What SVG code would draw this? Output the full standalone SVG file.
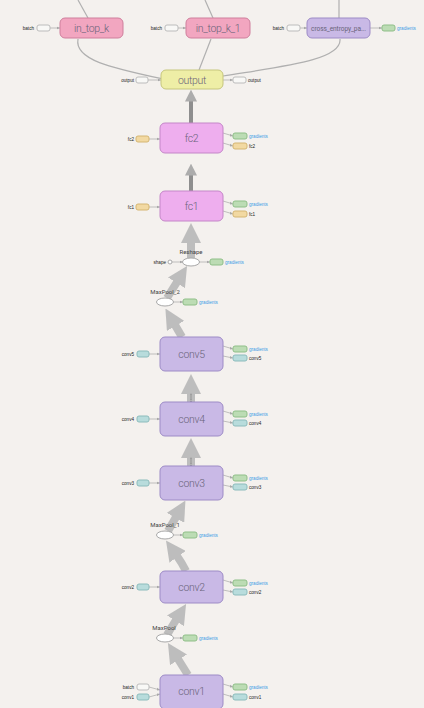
<svg xmlns="http://www.w3.org/2000/svg" width="424" height="708" viewBox="0 0 424 708">
  <style>
    .bg { fill: #f4f1ee; }
    .node rect { stroke-width: 1; }
    .pink { fill: #f2a6c0; stroke: #cf7f9c; }
    .violet { fill: #c9b9e6; stroke: #9d8bc6; }
    .fc { fill: #eeaeee; stroke: #c486c8; }
    .yellow { fill: #eeeea6; stroke: #c6c67c; }
    .op { fill: #ffffff; stroke: #a8a8a8; stroke-width: 1; }
    .lbl { font-family: Roboto, "Liberation Sans", sans-serif; font-size: 10.5px; font-weight: 300; letter-spacing: -0.3px; fill: #6a647a; text-anchor: middle; }
    .small { font-family: "Liberation Sans", Arial, sans-serif; font-size: 4.6px; fill: #222; }
    .grad { font-family: "Liberation Sans", Arial, sans-serif; font-size: 4.6px; fill: #3b9ce6; }
    .oplbl { font-family: Roboto, "Liberation Sans", sans-serif; font-size: 6px; fill: #444; text-anchor: middle; }
    .thin { fill: none; stroke: #b0b0b0; stroke-width: 1.2; }
    .aux { fill: none; stroke: #a8a8a8; stroke-width: 0.7; }
    .fat { fill: none; stroke: #bdbdbd; stroke-width: 8; marker-end: url(#fathead); }
    .mid { fill: none; stroke: #8e8e8e; stroke-width: 4; marker-end: url(#midhead); }
    .stripe { fill: none; stroke: #8a8a8a; stroke-width: 1.6; stroke-dasharray: 1.2 1; }
    .g-box { fill: #bcdcb4; stroke: #8fbf88; stroke-width: 0.6; }
    .t-box { fill: #b8dcdc; stroke: #8cbcbc; stroke-width: 0.6; }
    .f-box { fill: #f2d9a2; stroke: #d5b672; stroke-width: 0.6; }
    .w-box { fill: #f8f8f6; stroke: #bcbcbc; stroke-width: 0.6; }
  </style>
  <defs>
    <marker id="fathead" viewBox="0 0 10 10" refX="0.5" refY="5" markerWidth="2.5" markerHeight="2.5" orient="auto">
      <path d="M0,0 L10,5 L0,10 z" fill="#bdbdbd"/>
    </marker>
    <marker id="midhead" viewBox="0 0 10 10" refX="0.5" refY="5" markerWidth="3" markerHeight="3" orient="auto">
      <path d="M0,0 L10,5 L0,10 z" fill="#acacac"/>
    </marker>
    <marker id="tip" viewBox="0 0 10 10" refX="9" refY="5" markerWidth="5" markerHeight="5" orient="auto">
      <path d="M0,1 L9,5 L0,9 z" fill="#a8a8a8"/>
    </marker>
  </defs>

  <rect class="bg" x="0" y="0" width="424" height="708"/>

  <!-- connectors -->
  <g id="connectors">
    <!-- edges leaving the top of the view -->
    <path class="thin" d="M78,0 L88,18"/>
    <path class="thin" d="M205,0 L213,18"/>
    <path class="thin" d="M339,0 L339,18"/>
    <!-- output to the metric / loss ops -->
    <path class="thin" d="M163,79 C112,68 74,60 78,39"/>
    <path class="thin" d="M199,70 L211,39"/>
    <path class="thin" d="M223,76 C285,66 342,60 340,39"/>

    <!-- main data flow -->
    <path class="mid" d="M191,123 L191,101"/>
    <path class="mid" d="M191,191 L191,175"/>
    <path class="fat" d="M191,258 L191,242"/>
    <path class="fat" d="M167,298 Q172,290 177,282"/>
    <path class="fat" d="M182,337 L175,325"/>
    <path class="fat" d="M191,402 L191,393"/>
    <path class="stripe" d="M191,402 L191,393"/>
    <path class="fat" d="M191,466 L191,457"/>
    <path class="stripe" d="M191,466 L191,457"/>
    <path class="fat" d="M168,531 Q172,524 176,517"/>
    <path class="fat" d="M186,571 Q182,563 177,556"/>
    <path class="fat" d="M167,635 Q171,628 176,620"/>
    <path class="fat" d="M188,675 Q183,667 178,659"/>

    <!-- auxiliary inputs (left) -->
    <path class="aux" d="M50,28 L60,28" marker-end="url(#tip)"/>
    <path class="aux" d="M178,28 L186,28" marker-end="url(#tip)"/>
    <path class="aux" d="M300,28 L307,28" marker-end="url(#tip)"/>
    <path class="aux" d="M148,80 L161,80" marker-end="url(#tip)"/>
    <path class="aux" d="M149,139 L160,139" marker-end="url(#tip)"/>
    <path class="aux" d="M149,207 L160,207" marker-end="url(#tip)"/>
    <path class="aux" d="M172,262 L183,262" marker-end="url(#tip)"/>
    <path class="aux" d="M149,354 L160,354" marker-end="url(#tip)"/>
    <path class="aux" d="M149,419 L160,419" marker-end="url(#tip)"/>
    <path class="aux" d="M149,483 L160,483" marker-end="url(#tip)"/>
    <path class="aux" d="M149,587 L160,587" marker-end="url(#tip)"/>
    <path class="aux" d="M149,687 L160,690" marker-end="url(#tip)"/>
    <path class="aux" d="M149,697 L160,694" marker-end="url(#tip)"/>

    <!-- auxiliary outputs (right) -->
    <path class="aux" d="M370,28 L382,28" marker-end="url(#tip)"/>
    <path class="aux" d="M223,80 L233,80" marker-end="url(#tip)"/>
    <path class="aux" d="M223,133 L233,136" marker-end="url(#tip)"/>
    <path class="aux" d="M223,143 L233,146" marker-end="url(#tip)"/>
    <path class="aux" d="M223,201 L233,204" marker-end="url(#tip)"/>
    <path class="aux" d="M223,211 L233,214" marker-end="url(#tip)"/>
    <path class="aux" d="M199,262 L210,262" marker-end="url(#tip)"/>
    <path class="aux" d="M173,302 L183,302" marker-end="url(#tip)"/>
    <path class="aux" d="M223,346 L233,349" marker-end="url(#tip)"/>
    <path class="aux" d="M223,356 L233,358" marker-end="url(#tip)"/>
    <path class="aux" d="M223,411 L233,414" marker-end="url(#tip)"/>
    <path class="aux" d="M223,421 L233,423" marker-end="url(#tip)"/>
    <path class="aux" d="M223,475 L233,478" marker-end="url(#tip)"/>
    <path class="aux" d="M223,485 L233,487" marker-end="url(#tip)"/>
    <path class="aux" d="M173,535 L183,535" marker-end="url(#tip)"/>
    <path class="aux" d="M223,580 L233,583" marker-end="url(#tip)"/>
    <path class="aux" d="M223,590 L233,592" marker-end="url(#tip)"/>
    <path class="aux" d="M173,638 L183,638" marker-end="url(#tip)"/>
    <path class="aux" d="M223,684 L233,687" marker-end="url(#tip)"/>
    <path class="aux" d="M223,694 L233,697" marker-end="url(#tip)"/>
  </g>

  <!-- in_top_k -->
  <g id="in_top_k" class="node">
    <rect class="pink" x="60" y="18" width="63" height="20" rx="5"/>
    <text class="lbl" x="91.5" y="32">in_top_k</text>
    <text class="small" x="34" y="30" text-anchor="end">batch</text>
    <rect class="w-box" x="37" y="25" width="13" height="6" rx="2"/>
  </g>

  <!-- in_top_k_1 -->
  <g id="in_top_k_1" class="node">
    <rect class="pink" x="186" y="18" width="64" height="20" rx="5"/>
    <text class="lbl" x="218" y="32">in_top_k_1</text>
    <text class="small" x="162" y="30" text-anchor="end">batch</text>
    <rect class="w-box" x="165" y="25" width="13" height="6" rx="2"/>
  </g>

  <!-- cross_entropy -->
  <g id="cross_entropy" class="node">
    <rect class="violet" x="307" y="18" width="63" height="20" rx="5"/>
    <text class="lbl" x="338.5" y="30.5" style="font-size:6.6px;letter-spacing:-0.1px;font-weight:400">cross_entropy_pa...</text>
    <text class="small" x="284" y="30" text-anchor="end">batch</text>
    <rect class="w-box" x="287" y="25" width="13" height="6" rx="2"/>
    <rect class="g-box" x="382" y="25" width="13" height="6" rx="2"/>
    <text class="grad" x="397" y="30">gradients</text>
  </g>

  <!-- output -->
  <g id="output" class="node">
    <rect class="yellow" x="161" y="70" width="62" height="19" rx="5"/>
    <text class="lbl" x="192" y="83.5">output</text>
    <text class="small" x="134" y="82" text-anchor="end">output</text>
    <rect class="w-box" x="136" y="77" width="12" height="6" rx="2"/>
    <rect class="w-box" x="233" y="77" width="13" height="6" rx="2"/>
    <text class="small" x="248" y="82">output</text>
  </g>

  <!-- fc2 -->
  <g id="fc2" class="node">
    <rect class="fc" x="160" y="123" width="63" height="30" rx="5"/>
    <text class="lbl" x="191.5" y="142">fc2</text>
    <text class="small" x="134" y="141" text-anchor="end">fc2</text>
    <rect class="f-box" x="136" y="136" width="13" height="6" rx="2"/>
    <rect class="g-box" x="233" y="133" width="14" height="6" rx="2"/>
    <text class="grad" x="249" y="138">gradients</text>
    <rect class="f-box" x="233" y="143" width="14" height="6" rx="2"/>
    <text class="small" x="249" y="148">fc2</text>
  </g>

  <!-- fc1 -->
  <g id="fc1" class="node">
    <rect class="fc" x="160" y="191" width="63" height="30" rx="5"/>
    <text class="lbl" x="191.5" y="210">fc1</text>
    <text class="small" x="134" y="209" text-anchor="end">fc1</text>
    <rect class="f-box" x="136" y="204" width="13" height="6" rx="2"/>
    <rect class="g-box" x="233" y="201" width="14" height="6" rx="2"/>
    <text class="grad" x="249" y="206">gradients</text>
    <rect class="f-box" x="233" y="211" width="14" height="6" rx="2"/>
    <text class="small" x="249" y="216">fc1</text>
  </g>

  <!-- Reshape -->
  <g id="Reshape" class="node">
    <ellipse class="op" cx="191" cy="262" rx="8.5" ry="4"/>
    <text class="oplbl" x="191" y="254">Reshape</text>
    <text class="small" x="166" y="264" text-anchor="end">shape</text>
    <circle class="op" cx="170" cy="262" r="2"/>
    <rect class="g-box" x="210" y="259" width="13" height="6" rx="2"/>
    <text class="grad" x="225" y="264">gradients</text>
  </g>

  <!-- MaxPool_2 -->
  <g id="MaxPool_2" class="node">
    <ellipse class="op" cx="165" cy="302" rx="8.5" ry="4"/>
    <text class="oplbl" x="165" y="294">MaxPool_2</text>
    <rect class="g-box" x="183" y="299" width="14" height="6" rx="2"/>
    <text class="grad" x="199" y="304">gradients</text>
  </g>

  <!-- conv5 -->
  <g id="conv5" class="node">
    <rect class="violet" x="160" y="337" width="63" height="34" rx="5"/>
    <text class="lbl" x="191.5" y="358">conv5</text>
    <text class="small" x="134" y="356" text-anchor="end">conv5</text>
    <rect class="t-box" x="137" y="351" width="12" height="6" rx="2"/>
    <rect class="g-box" x="233" y="346" width="14" height="6" rx="2"/>
    <text class="grad" x="249" y="351">gradients</text>
    <rect class="t-box" x="233" y="355" width="14" height="6" rx="2"/>
    <text class="small" x="249" y="360">conv5</text>
  </g>

  <!-- conv4 -->
  <g id="conv4" class="node">
    <rect class="violet" x="160" y="402" width="63" height="34" rx="5"/>
    <text class="lbl" x="191.5" y="423">conv4</text>
    <text class="small" x="134" y="421" text-anchor="end">conv4</text>
    <rect class="t-box" x="137" y="416" width="12" height="6" rx="2"/>
    <rect class="g-box" x="233" y="411" width="14" height="6" rx="2"/>
    <text class="grad" x="249" y="416">gradients</text>
    <rect class="t-box" x="233" y="420" width="14" height="6" rx="2"/>
    <text class="small" x="249" y="425">conv4</text>
  </g>

  <!-- conv3 -->
  <g id="conv3" class="node">
    <rect class="violet" x="160" y="466" width="63" height="34" rx="5"/>
    <text class="lbl" x="191.5" y="487">conv3</text>
    <text class="small" x="134" y="485" text-anchor="end">conv3</text>
    <rect class="t-box" x="137" y="480" width="12" height="6" rx="2"/>
    <rect class="g-box" x="233" y="475" width="14" height="6" rx="2"/>
    <text class="grad" x="249" y="480">gradients</text>
    <rect class="t-box" x="233" y="484" width="14" height="6" rx="2"/>
    <text class="small" x="249" y="489">conv3</text>
  </g>

  <!-- MaxPool_1 -->
  <g id="MaxPool_1" class="node">
    <ellipse class="op" cx="165" cy="535" rx="8.5" ry="4"/>
    <text class="oplbl" x="165" y="527">MaxPool_1</text>
    <rect class="g-box" x="183" y="532" width="14" height="6" rx="2"/>
    <text class="grad" x="199" y="537">gradients</text>
  </g>

  <!-- conv2 -->
  <g id="conv2" class="node">
    <rect class="violet" x="160" y="571" width="63" height="32" rx="5"/>
    <text class="lbl" x="191.5" y="591">conv2</text>
    <text class="small" x="134" y="589" text-anchor="end">conv2</text>
    <rect class="t-box" x="137" y="584" width="12" height="6" rx="2"/>
    <rect class="g-box" x="233" y="580" width="14" height="6" rx="2"/>
    <text class="grad" x="249" y="585">gradients</text>
    <rect class="t-box" x="233" y="589" width="14" height="6" rx="2"/>
    <text class="small" x="249" y="594">conv2</text>
  </g>

  <!-- MaxPool -->
  <g id="MaxPool" class="node">
    <ellipse class="op" cx="165" cy="638" rx="8.5" ry="4"/>
    <text class="oplbl" x="164" y="630">MaxPool</text>
    <rect class="g-box" x="183" y="635" width="14" height="6" rx="2"/>
    <text class="grad" x="199" y="640">gradients</text>
  </g>

  <!-- conv1 -->
  <g id="conv1" class="node">
    <rect class="violet" x="160" y="675" width="63" height="34" rx="5"/>
    <text class="lbl" x="191.5" y="695">conv1</text>
    <text class="small" x="134" y="689" text-anchor="end">batch</text>
    <rect class="w-box" x="137" y="684" width="12" height="6" rx="2"/>
    <text class="small" x="134" y="699" text-anchor="end">conv1</text>
    <rect class="t-box" x="137" y="694" width="12" height="6" rx="2"/>
    <rect class="g-box" x="233" y="684" width="14" height="6" rx="2"/>
    <text class="grad" x="249" y="689">gradients</text>
    <rect class="t-box" x="233" y="694" width="14" height="6" rx="2"/>
    <text class="small" x="249" y="699">conv1</text>
  </g>
</svg>
